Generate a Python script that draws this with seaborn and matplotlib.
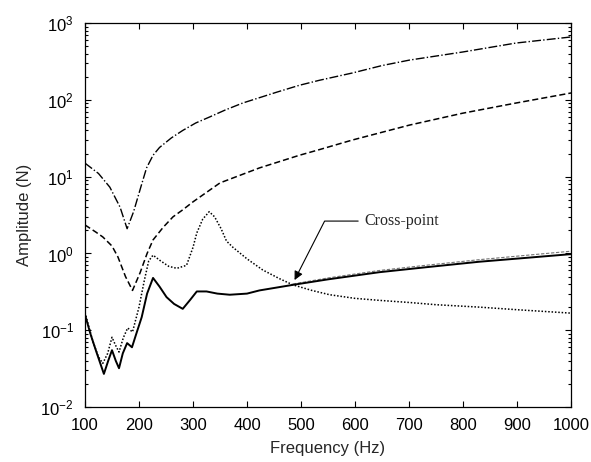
import matplotlib
matplotlib.use("Agg")
import matplotlib.pyplot as plt
import matplotlib.ticker as mticker
import seaborn as sns
import pandas as pd
import numpy as np

# --- data ---
f_dashdot = [100, 125, 146, 165, 178, 190, 205, 214, 226, 238, 260, 281, 305, 331, 360,
             392, 455, 497, 534, 595, 650, 701, 799, 898, 1000]
a_dashdot = [15, 11, 7.3, 4.0, 2.1, 3.5, 8.0, 13, 19, 24, 32, 40, 50, 60, 74,
             91, 126, 155, 180, 224, 280, 330, 420, 550, 660]

f_dashed = [100, 120, 133, 150, 161, 175, 188, 202, 215, 226, 245, 263, 281, 300, 350,
            423, 497, 534, 595, 701, 799, 898, 1000]
a_dashed = [2.35, 1.9, 1.64, 1.25, 0.9, 0.5, 0.33, 0.56, 1.0, 1.5, 2.2, 3.0, 3.7, 4.7,
            8.3, 13, 19, 22.5, 30, 47, 67, 91, 123]

f_dotted = [100, 115, 125, 133, 142, 150, 156, 163, 171, 179, 188, 200, 210, 218,
            226, 240, 255, 270, 288, 300, 307, 318, 330, 340, 352, 362, 374, 400,
            429, 460, 485, 520, 553, 600, 645, 700, 750, 830, 900, 1000]
a_dotted = [0.17, 0.07, 0.045, 0.037, 0.05, 0.081, 0.065, 0.052, 0.08, 0.107, 0.095,
            0.2, 0.45, 0.8, 0.95, 0.8, 0.68, 0.64, 0.7, 1.2, 1.85, 2.8, 3.5, 3.0,
            2.1, 1.45, 1.2, 0.85, 0.61, 0.47, 0.39, 0.33, 0.29, 0.26, 0.245, 0.23,
            0.215, 0.2, 0.185, 0.167]

f_solid = [100, 110, 122, 135, 143, 150, 157, 163, 170, 178, 187, 195, 205, 215,
           226, 238, 251, 265, 281, 295, 307, 325, 345, 368, 400, 423, 485, 550,
           645, 730, 830, 920, 1000]
a_solid = [0.16, 0.09, 0.05, 0.027, 0.04, 0.055, 0.04, 0.032, 0.05, 0.068, 0.06,
           0.09, 0.148, 0.3, 0.48, 0.37, 0.27, 0.22, 0.19, 0.25, 0.32, 0.32, 0.30,
           0.29, 0.30, 0.33, 0.39, 0.46, 0.57, 0.66, 0.78, 0.88, 0.98]

f_thin = [485, 550, 645, 730, 830, 920, 1000]
a_thin = [0.40, 0.48, 0.60, 0.70, 0.83, 0.95, 1.07]

x_ticks = [100, 200, 300, 400, 500, 600, 700, 800, 900, 1000]

sns.set_style("ticks")
plt.rcParams['font.family'] = ['Liberation Sans', 'DejaVu Sans']
plt.rcParams['mathtext.fontset'] = 'custom'
plt.rcParams['mathtext.rm'] = 'Liberation Sans'
plt.rcParams['xtick.direction'] = 'in'
plt.rcParams['ytick.direction'] = 'in'

fig = plt.figure(figsize=(5.91, 4.62), dpi=100)
ax = fig.add_axes([0.1438, 0.119, 0.8225, 0.831])

sns.lineplot(x=f_dashdot, y=a_dashdot, ax=ax, color='black', linestyle='-.', linewidth=1.0)
sns.lineplot(x=f_dashed, y=a_dashed, ax=ax, color='black', linestyle=(0, (4, 2)), linewidth=1.1)
sns.lineplot(x=f_thin, y=a_thin, ax=ax, color='0.45', linestyle=(0, (3, 1.5)), linewidth=0.8)
sns.lineplot(x=f_dotted, y=a_dotted, ax=ax, color='black', linestyle=(0, (1, 1.2)), linewidth=1.1)
sns.lineplot(x=f_solid, y=a_solid, ax=ax, color='black', linestyle='-', linewidth=1.4)

ax.set_yscale('log')
ax.set_xlim(100, 1000)
ax.set_ylim(1e-2, 1e3)
ax.set_xticks(x_ticks)
ax.set_xticklabels([str(t) for t in x_ticks])
ax.yaxis.set_major_locator(mticker.LogLocator(base=10, numticks=10))
ax.yaxis.set_minor_locator(mticker.LogLocator(base=10, subs=np.arange(2, 10), numticks=20))
ax.yaxis.set_minor_formatter(mticker.NullFormatter())
ax.tick_params(which='both', top=True, right=True, direction='in', labelsize=12,
               width=0.8, colors='black')
ax.tick_params(which='major', length=4)
ax.tick_params(which='minor', length=2.5)
ax.tick_params(axis='x', which='major', pad=8)
ax.tick_params(axis='y', which='major', pad=8)
for sp in ax.spines.values():
    sp.set_visible(True)
    sp.set_linewidth(0.9)
    sp.set_color('black')

ax.set_xlabel('Frequency (Hz)', fontsize=12, labelpad=6)
ax.set_ylabel('Amplitude (N)', fontsize=12, labelpad=6)

ax.annotate('Cross-point', xy=(488, 0.45), xytext=(617, 2.64),
            fontsize=11.5, family=['Liberation Serif', 'DejaVu Serif'],
            ha='left', va='center',
            arrowprops=dict(arrowstyle='-|>', color='black', lw=0.8,
                            mutation_scale=13,
                            connectionstyle='angle,angleA=0,angleB=63,rad=0',
                            shrinkA=2, shrinkB=0))

fig.savefig('out.png', dpi=100)
